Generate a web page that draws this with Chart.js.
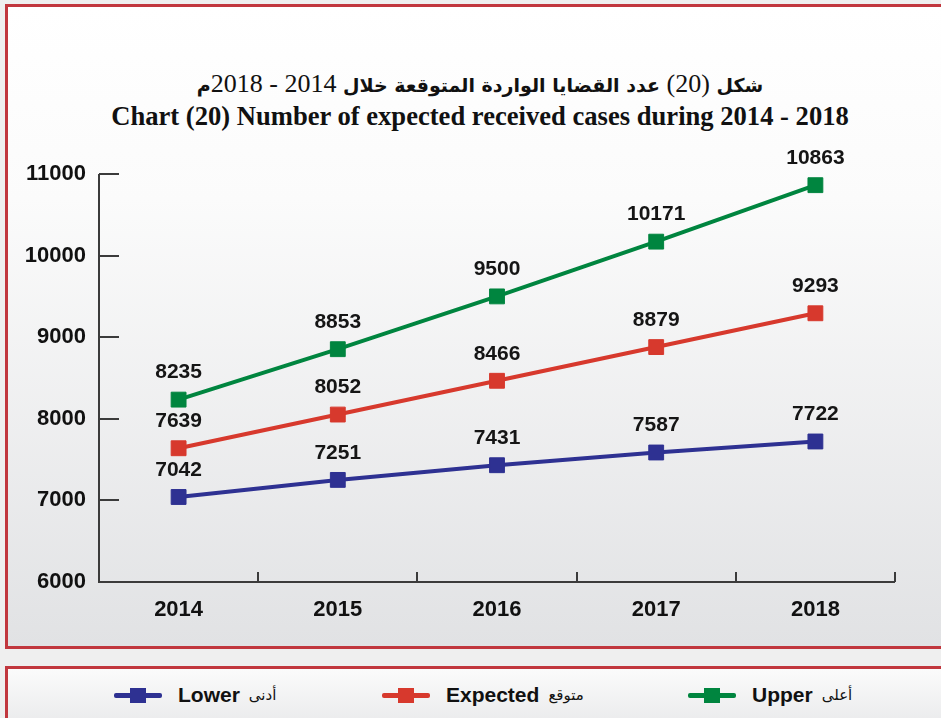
<!DOCTYPE html>
<html>
<head>
<meta charset="utf-8">
<script src="https://cdn.jsdelivr.net/npm/chart.js@4/dist/chart.umd.min.js"></script>
<style>
  html, body { margin: 0; padding: 0; }
  body {
    width: 941px; height: 718px; overflow: hidden; position: relative;
    background: #efefef; font-family: "Liberation Sans", Arial, sans-serif;
  }
  .frame {
    position: absolute; left: 5px; top: 4px; width: 960px; height: 639px;
    border: 3px solid #c1373e;
    background: linear-gradient(#ffffff 0%, #fbfbfb 30%, #e1e2e4 100%);
  }
  .title {
    position: absolute; left: 0; width: 960px; text-align: center; color: #111;
    white-space: nowrap; line-height: 1;
  }
  .title.ar { top: 69px; font: bold 19px "DejaVu Sans", sans-serif; }
  .title.ar .num { font: 26px "Liberation Serif", "Times New Roman", serif; }
  .title.en { top: 101px; font: bold 26.6px "Liberation Serif", "Times New Roman", serif; }
  #wrap { position: absolute; left: 0; top: 130px; width: 941px; height: 500px; }
  .legend {
    position: absolute; left: 5px; top: 666px; width: 960px; height: 80px;
    border: 3px solid #c1373e;
    background: linear-gradient(#fbfbfb, #e2e3e5);
  }
  .item {
    position: absolute; top: 13px; display: flex; align-items: center; height: 26px;
  }
  .sym { position: relative; width: 48px; height: 15px; margin-right: 16px; }
  .sym .ln { position: absolute; left: 0; right: 0; top: 5px; height: 5px; border-radius: 2px; }
  .sym .sq { position: absolute; left: 16px; top: 0; width: 16px; height: 15px; }
  .item .en { font: bold 21px "Liberation Sans", Arial, sans-serif; color: #111; }
  .item .ar { font: 15px "DejaVu Sans", sans-serif; color: #111; margin-left: 9px; }
</style>
</head>
<body>
<div class="frame"></div>
<div class="title ar" dir="rtl">شكل <span class="num">(20)</span> عدد القضايا الواردة المتوقعة خلال <span class="num">2014 - 2018</span>م</div>
<div class="title en">Chart (20) Number of expected received cases during 2014 - 2018</div>
<div id="wrap"><canvas id="myChart" width="941" height="500"></canvas></div>
<div class="legend" id="legend"></div>

<script>
const years = ["2014", "2015", "2016", "2017", "2018"];
const lower = [7042, 7251, 7431, 7587, 7722];
const expected = [7639, 8052, 8466, 8879, 9293];
const upper = [8235, 8853, 9500, 10171, 10863];

const seriesNames = ["Lower", "Expected", "Upper"];
const seriesNamesAr = ["أدنى", "متوقع", "أعلى"];
const seriesColors = ["#2e3192", "#d7392d", "#00853f"];
const legendLeft = [114, 382, 688];

const axisFont = { family: '"Liberation Sans", Arial', size: 22, weight: "bold" };
const labelFont = 'bold 21px "Liberation Sans", Arial, sans-serif';

// axis lines, inward tick marks and point values
const axesPlugin = {
  id: "axes",
  beforeDatasetsDraw(chart) {
    const { ctx, chartArea: a, scales: { x, y } } = chart;
    ctx.save();
    ctx.strokeStyle = "#3b3b3b";
    ctx.lineWidth = 2;
    ctx.beginPath();
    ctx.moveTo(a.left, a.top);
    ctx.lineTo(a.left, a.bottom);
    ctx.lineTo(a.right, a.bottom);
    y.ticks.forEach(t => {
      const py = Math.round(y.getPixelForValue(t.value));
      if (py < a.bottom - 1) {
        ctx.moveTo(a.left, py);
        ctx.lineTo(a.left + 20, py);
      }
    });
    const half = (x.getPixelForValue(1) - x.getPixelForValue(0)) / 2;
    years.forEach((_, i) => {
      const px = Math.round(x.getPixelForValue(i) + half);
      ctx.moveTo(px, a.bottom);
      ctx.lineTo(px, a.bottom - 10);
    });
    ctx.stroke();
    ctx.restore();
  },
  afterDatasetsDraw(chart) {
    const { ctx } = chart;
    ctx.save();
    ctx.font = labelFont;
    ctx.fillStyle = "#151515";
    ctx.textAlign = "center";
    ctx.textBaseline = "middle";
    chart.data.datasets.forEach((ds, di) => {
      chart.getDatasetMeta(di).data.forEach((pt, i) => {
        ctx.fillText(ds.data[i], pt.x, pt.y - 27);
      });
    });
    ctx.restore();
  }
};

const ctx = document.getElementById("myChart");
const datasets = [lower, expected, upper].map((d, i) => ({
  label: seriesNames[i],
  data: d,
  borderColor: seriesColors[i],
  backgroundColor: seriesColors[i],
  borderWidth: 4,
  pointStyle: "rect",
  pointRadius: 10.5,
  pointBorderWidth: 1,
  pointHoverRadius: 10.5,
  tension: 0,
}));

new Chart(ctx, {
  type: "line",
  data: { labels: years, datasets: datasets },
  options: {
    responsive: false,
    animation: false,
    devicePixelRatio: 1,
    layout: { padding: { top: 44, right: 46, left: 0, bottom: 0 } },
    plugins: { legend: { display: false }, tooltip: { enabled: false } },
    scales: {
      x: {
        offset: true,
        grid: { display: false, drawTicks: false },
        border: { display: false },
        ticks: { color: "#111", font: axisFont, padding: 15 },
        afterFit(s) { s.height = 48; },
      },
      y: {
        min: 6000,
        max: 11000,
        grid: { display: false, drawTicks: false },
        border: { display: false },
        ticks: { stepSize: 1000, color: "#111", font: axisFont, padding: 13, callback: v => String(v) },
        afterFit(s) { s.width = 99; },
      },
    },
  },
  plugins: [axesPlugin],
});

// legend built from the series lists
const legend = document.getElementById("legend");
seriesNames.forEach((name, i) => {
  const item = document.createElement("div");
  item.className = "item";
  item.style.left = (legendLeft[i] - 8) + "px";
  item.innerHTML =
    '<div class="sym"><div class="ln" style="background:' + seriesColors[i] + '"></div>' +
    '<div class="sq" style="background:' + seriesColors[i] + '"></div></div>' +
    '<span class="en">' + name + '</span><span class="ar" dir="rtl">' + seriesNamesAr[i] + '</span>';
  legend.appendChild(item);
});
</script>
</body>
</html>
